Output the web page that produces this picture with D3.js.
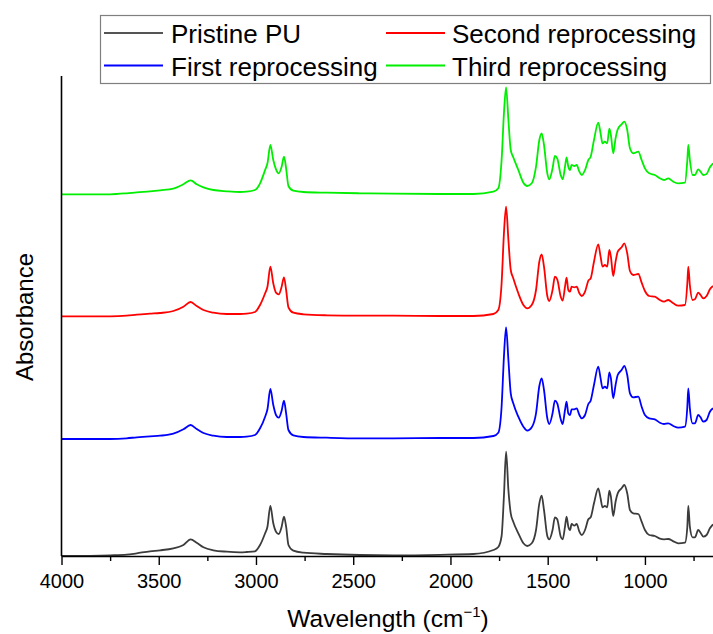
<!DOCTYPE html>
<html>
<head>
<meta charset="utf-8">
<script src="https://cdn.jsdelivr.net/npm/d3@7"></script>
<style>
  body { margin: 0; background: #fff; }
  text { font-family: Arial, "Liberation Sans", sans-serif; }
</style>
</head>
<body>
<div id="chart"></div>
<script>
// wavenumbers (cm-1), shared by all four spectra
var wavenumbers = [4000, 3750, 3665, 3613, 3545, 3493, 3425, 3373, 3336, 3305, 3270, 3219, 3150, 3082, 3048, 3005,
  2979, 2953, 2941, 2926, 2911, 2897, 2883, 2868, 2856, 2845, 2833, 2808, 2756, 2636, 2465, 2294,
  2054, 1882, 1779, 1754, 1737, 1725, 1714, 1702, 1690, 1677, 1651, 1625, 1605, 1582, 1560, 1543,
  1531, 1519, 1502, 1492, 1475, 1463, 1451, 1433, 1423, 1411, 1403, 1394, 1385, 1377, 1363, 1351,
  1337, 1325, 1308, 1291, 1279, 1262, 1240, 1228, 1218, 1206, 1194, 1183, 1175, 1163, 1151, 1140,
  1120, 1106, 1091, 1077, 1060, 1034, 1017, 1000, 978, 949, 923, 902, 880, 854, 829, 794,
  782, 777, 769, 755, 743, 726, 714, 700, 683, 666, 650];

var pristine = [0, 0.007, 0.013, 0.027, 0.047, 0.057, 0.077, 0.11, 0.167, 0.133, 0.087, 0.057, 0.043, 0.037, 0.04, 0.047,
  0.11, 0.227, 0.293, 0.5, 0.327, 0.243, 0.22, 0.293, 0.393, 0.293, 0.11, 0.053, 0.033, 0.02, 0.01, 0.007,
  0.012, 0.02, 0.06, 0.09, 0.2, 0.6, 1.043, 0.66, 0.427, 0.343, 0.227, 0.127, 0.10, 0.127, 0.26, 0.527,
  0.603, 0.46, 0.2, 0.167, 0.26, 0.387, 0.367, 0.193, 0.167, 0.293, 0.393, 0.293, 0.26, 0.32, 0.303, 0.32,
  0.243, 0.21, 0.26, 0.367, 0.387, 0.527, 0.677, 0.577, 0.487, 0.5, 0.487, 0.653, 0.593, 0.4, 0.543, 0.627,
  0.677, 0.71, 0.627, 0.46, 0.427, 0.42, 0.343, 0.26, 0.21, 0.2, 0.173, 0.167, 0.17, 0.147, 0.127, 0.133,
  0.293, 0.5, 0.293, 0.187, 0.187, 0.26, 0.233, 0.193, 0.21, 0.277, 0.317];

var firstRep = [0, 0, 0.007, 0.017, 0.027, 0.033, 0.053, 0.097, 0.14, 0.1, 0.06, 0.033, 0.02, 0.02, 0.023, 0.04,
  0.107, 0.223, 0.297, 0.5, 0.34, 0.24, 0.213, 0.283, 0.383, 0.257, 0.09, 0.037, 0.02, 0.013, 0.007, 0.007,
  0.01, 0.01, 0.03, 0.063, 0.323, 0.823, 1.117, 0.79, 0.457, 0.357, 0.223, 0.123, 0.083, 0.117, 0.257, 0.53,
  0.607, 0.49, 0.207, 0.15, 0.257, 0.383, 0.357, 0.197, 0.15, 0.29, 0.373, 0.257, 0.24, 0.297, 0.297, 0.307,
  0.24, 0.207, 0.24, 0.35, 0.383, 0.54, 0.723, 0.607, 0.507, 0.523, 0.507, 0.667, 0.607, 0.407, 0.54, 0.64,
  0.69, 0.73, 0.64, 0.457, 0.417, 0.423, 0.323, 0.24, 0.207, 0.197, 0.163, 0.15, 0.157, 0.13, 0.113, 0.123,
  0.323, 0.507, 0.307, 0.157, 0.157, 0.24, 0.217, 0.173, 0.19, 0.273, 0.307];

var secondRep = [0.007, 0.007, 0.013, 0.023, 0.033, 0.04, 0.06, 0.103, 0.15, 0.11, 0.07, 0.043, 0.03, 0.03, 0.033, 0.05,
  0.12, 0.237, 0.303, 0.503, 0.337, 0.243, 0.227, 0.303, 0.397, 0.27, 0.097, 0.043, 0.027, 0.017, 0.013, 0.013,
  0.01, 0.01, 0.03, 0.07, 0.337, 0.837, 1.103, 0.77, 0.47, 0.387, 0.237, 0.12, 0.087, 0.12, 0.27, 0.553,
  0.627, 0.503, 0.21, 0.16, 0.27, 0.403, 0.377, 0.203, 0.163, 0.303, 0.393, 0.27, 0.253, 0.303, 0.297, 0.303,
  0.237, 0.21, 0.253, 0.363, 0.387, 0.553, 0.727, 0.603, 0.503, 0.52, 0.503, 0.67, 0.603, 0.41, 0.553, 0.653,
  0.697, 0.737, 0.637, 0.46, 0.42, 0.43, 0.343, 0.26, 0.21, 0.203, 0.17, 0.153, 0.17, 0.137, 0.113, 0.12,
  0.337, 0.503, 0.32, 0.17, 0.177, 0.243, 0.22, 0.187, 0.21, 0.277, 0.31];

var thirdRep = [0.007, 0.007, 0.017, 0.027, 0.037, 0.047, 0.063, 0.107, 0.147, 0.107, 0.077, 0.05, 0.037, 0.03, 0.033, 0.05,
  0.117, 0.25, 0.317, 0.5, 0.35, 0.257, 0.217, 0.283, 0.383, 0.267, 0.09, 0.043, 0.03, 0.023, 0.017, 0.013,
  0.01, 0.01, 0.033, 0.067, 0.35, 0.817, 1.077, 0.75, 0.45, 0.377, 0.25, 0.123, 0.09, 0.117, 0.283, 0.55,
  0.617, 0.5, 0.217, 0.157, 0.267, 0.39, 0.367, 0.2, 0.157, 0.283, 0.377, 0.283, 0.25, 0.3, 0.29, 0.3,
  0.233, 0.2, 0.25, 0.35, 0.383, 0.55, 0.723, 0.617, 0.517, 0.533, 0.517, 0.663, 0.6, 0.417, 0.567, 0.657,
  0.707, 0.733, 0.65, 0.467, 0.417, 0.433, 0.35, 0.267, 0.217, 0.2, 0.167, 0.15, 0.167, 0.133, 0.117, 0.123,
  0.35, 0.5, 0.35, 0.2, 0.2, 0.257, 0.233, 0.2, 0.21, 0.277, 0.317];

var seriesNames = ["Pristine PU", "First reprocessing", "Second reprocessing", "Third reprocessing"];
var seriesColors = ["#3c3c3c", "#0000ff", "#ff0000", "#00ee00"];
var seriesOffsets = [0, 1.17, 2.39, 3.61];
var seriesValues = [pristine, firstRep, secondRep, thirdRep];

var majorTicks = [4000, 3500, 3000, 2500, 2000, 1500, 1000];
var minorTicks = [3750, 3250, 2750, 2250, 1750, 1250, 750];

var width = 713, height = 634;
var plotLeft = 61.5, plotRight = 713, plotTop = 76, plotBottom = 556;

var svg = d3.select("#chart")
  .append("svg")
    .attr("width", width)
    .attr("height", height);

var x = d3.scaleLinear()
  .domain([4000, 650])
  .range([plotLeft, plotRight]);

var y = d3.scaleLinear()
  .domain([0, 4.8])
  .range([plotBottom, plotTop]);

// spectra
var line = d3.line()
  .x(function(d) { return x(d.wn); })
  .y(function(d) { return y(d.a); })
  .curve(d3.curveMonotoneX);

seriesValues.forEach(function(vals, i) {
  var pts = wavenumbers.map(function(wn, j) { return {wn: wn, a: vals[j] + seriesOffsets[i]}; });
  svg.append("path")
    .datum(pts)
    .attr("fill", "none")
    .attr("stroke", seriesColors[i])
    .attr("stroke-width", 1.8)
    .attr("stroke-linejoin", "round")
    .attr("d", line);
});

// X axis, major ticks
var xAxis = svg.append("g")
  .attr("transform", "translate(0," + plotBottom + ")")
  .call(d3.axisBottom(x).tickValues(majorTicks).tickSize(9).tickSizeOuter(0).tickPadding(9)
    .tickFormat(d3.format("d")));
xAxis.select(".domain").attr("stroke", "#000").attr("stroke-width", 1.6);
xAxis.selectAll(".tick line").attr("stroke", "#000").attr("stroke-width", 1.4);
xAxis.selectAll(".tick text")
  .attr("fill", "#000")
  .style("font-size", "20px")
  .style("font-family", "Arial, 'Liberation Sans', sans-serif");

// minor ticks
svg.append("g")
  .attr("transform", "translate(0," + plotBottom + ")")
  .call(d3.axisBottom(x).tickValues(minorTicks).tickSize(5).tickFormat(""))
  .call(function(g) { g.select(".domain").remove(); })
  .selectAll(".tick line").attr("stroke", "#000").attr("stroke-width", 1.4);

// Y axis line, no ticks
svg.append("line")
  .attr("x1", plotLeft).attr("x2", plotLeft)
  .attr("y1", plotTop).attr("y2", plotBottom)
  .attr("stroke", "#000")
  .attr("stroke-width", 1.6);

// axis titles
var xt = svg.append("text")
  .attr("x", 388)
  .attr("y", 627)
  .attr("text-anchor", "middle")
  .style("font-size", "24.5px")
  .attr("fill", "#000");
xt.append("tspan").text("Wavelength (cm");
xt.append("tspan").text("\u22121").attr("dy", -10).style("font-size", "15px");
xt.append("tspan").text(")").attr("dy", 10);

svg.append("text")
  .attr("transform", "translate(33,317) rotate(-90)")
  .attr("text-anchor", "middle")
  .style("font-size", "24px")
  .attr("fill", "#000")
  .text("Absorbance");

// legend
var legend = svg.append("g");
legend.append("rect")
  .attr("x", 100.5).attr("y", 15.5)
  .attr("width", 610).attr("height", 68)
  .attr("fill", "#fff")
  .attr("stroke", "#7f7f7f")
  .attr("stroke-width", 1.2);

var legendPos = [
  {lx: 104, tx: 171, y: 33},
  {lx: 104, tx: 171, y: 65.5},
  {lx: 386, tx: 452, y: 33},
  {lx: 386, tx: 452, y: 65.5}
];
seriesNames.forEach(function(name, i) {
  var p = legendPos[i];
  legend.append("line")
    .attr("x1", p.lx).attr("x2", p.lx + 59)
    .attr("y1", p.y).attr("y2", p.y)
    .attr("stroke", i === 0 ? "#555" : seriesColors[i])
    .attr("stroke-width", 1.8);
  legend.append("text")
    .attr("x", p.tx)
    .attr("y", p.y + 10)
    .style("font-size", "26px")
    .attr("fill", "#000")
    .text(name);
});
</script>
</body>
</html>
